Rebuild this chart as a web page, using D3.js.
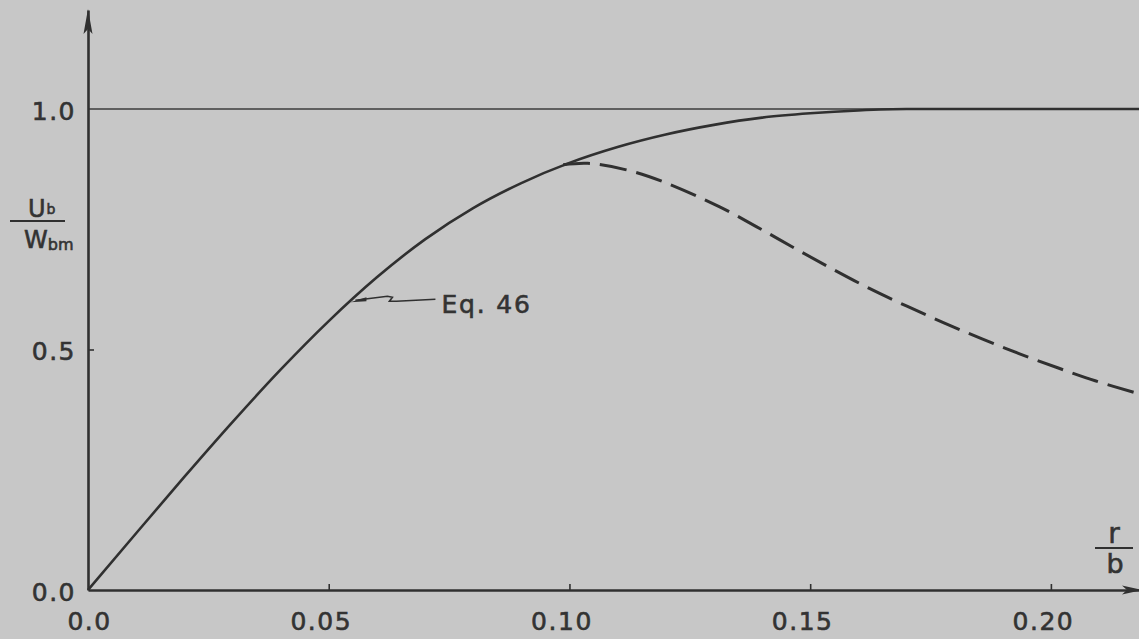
<!DOCTYPE html>
<html><head><meta charset="utf-8">
<script src="https://cdn.jsdelivr.net/npm/d3@7"></script>
<style>
html,body{margin:0;padding:0;background:#c7c7c7;overflow:hidden;}
svg{display:block;}
text{font-family:"DejaVu Sans",sans-serif;fill:#333;stroke:#333;stroke-width:0.6px;}
</style></head><body>
<svg id="chart" width="1139" height="639"></svg>
<script>
// ---- data ----
const xTickValues = [0, 0.05, 0.10, 0.15, 0.20];
const xTickLabels = ["0.0", "0.05", "0.10", "0.15", "0.20"];
const yTickValues = [0, 0.5, 1.0];
const yTickLabels = ["0.0", "0.5", "1.0"];
const referenceLevel = [1.0];

// solid curve (Eq. 46)
const solidX = [0, 0.01, 0.02, 0.03, 0.04, 0.05, 0.06, 0.07, 0.08, 0.09, 0.10, 0.11, 0.12, 0.13, 0.14, 0.15, 0.16, 0.17, 0.18, 0.2183];
const solidY = [0, 0.118, 0.235, 0.349, 0.458, 0.559, 0.650, 0.729, 0.794, 0.846, 0.888, 0.921, 0.947, 0.967, 0.982, 0.991, 0.997, 1.0, 1.0, 1.0];

// dashed branch
const dashedX = [0.0987, 0.1038, 0.1116, 0.1194, 0.1311, 0.1389, 0.1467, 0.1545, 0.1623, 0.1701, 0.1779, 0.1857, 0.1935, 0.2014, 0.2092, 0.2183];
const dashedY = [0.884, 0.887, 0.874, 0.849, 0.797, 0.755, 0.711, 0.668, 0.627, 0.590, 0.555, 0.522, 0.491, 0.462, 0.435, 0.408];

const annotationText = "Eq. 46";
const annotationX = 0.0543;
const yLabelTop = ["U", "b"];
const yLabelBottom = ["W", "bm"];
const xLabelTop = "r";
const xLabelBottom = "b";

// ---- layout ----
const W = 1139, H = 639;
const ink = "#303030";
const svg = d3.select("#chart");
svg.append("rect").attr("width", W).attr("height", H).attr("fill", "#c7c7c7");

const x = d3.scaleLinear().domain([0, 0.2183]).range([88, 1139]);
const y = d3.scaleLinear().domain([0, 1.2058]).range([590, 10]);

// reference line at 1.0
svg.selectAll("line.ref").data(referenceLevel).enter().append("line")
  .attr("class", "ref")
  .attr("x1", x(0)).attr("x2", x(0.2183))
  .attr("y1", d => y(d)).attr("y2", d => y(d))
  .attr("stroke", "#3c3c3c").attr("stroke-width", 1.3);

// x axis
const xAxis = d3.axisBottom(x).tickValues(xTickValues)
  .tickFormat((d, i) => xTickLabels[i]).tickSizeInner(-6).tickSizeOuter(0);
const gx = svg.append("g").attr("transform", `translate(0,${y(0)})`).call(xAxis);
gx.select(".domain").attr("stroke", ink).attr("stroke-width", 2.6);
gx.selectAll(".tick line").attr("stroke", ink).attr("stroke-width", 1.6)
  .attr("display", d => d === 0 ? "none" : null);
gx.selectAll(".tick text").attr("y", 40).attr("dy", 0)
  .attr("dx", d => d === 0 ? 1 : -8)
  .style("font-size", "25px").style("letter-spacing", "1.5px").attr("fill", "#333");

// y axis
const yAxis = d3.axisLeft(y).tickValues(yTickValues)
  .tickFormat((d, i) => yTickLabels[i]).tickSizeInner(-6).tickSizeOuter(0);
const gy = svg.append("g").attr("transform", `translate(${x(0)},0)`).call(yAxis);
gy.select(".domain").attr("stroke", ink).attr("stroke-width", 2.6);
gy.selectAll(".tick line").attr("stroke", ink).attr("stroke-width", 1.6)
  .attr("display", d => d === 0.5 ? null : "none");
gy.selectAll(".tick text").attr("x", -12).attr("dy", "0.42em")
  .style("font-size", "25px").style("letter-spacing", "1.5px").attr("fill", "#333");

// arrowheads
const yTopPx = y(1.2058), xEndPx = x(0.2183);
svg.append("path")
  .attr("d", `M${x(0)},${yTopPx - 1} L${x(0) - 4.5},${yTopPx + 24} L${x(0)},${yTopPx + 19} L${x(0) + 4.5},${yTopPx + 24} Z`)
  .attr("fill", ink);
svg.append("path")
  .attr("d", `M${xEndPx + 3},${y(0)} L${xEndPx - 17},${y(0) - 4.5} L${xEndPx - 12},${y(0)} L${xEndPx - 17},${y(0) + 4.5} Z`)
  .attr("fill", ink);

// curves
const solidData = solidX.map((v, i) => [v, solidY[i]]);
const dashedData = dashedX.map((v, i) => [v, dashedY[i]]);

const solidLine = d3.line().x(d => x(d[0])).y(d => y(d[1])).curve(d3.curveMonotoneX);
const dashedLine = d3.line().x(d => x(d[0])).y(d => y(d[1])).curve(d3.curveCatmullRom.alpha(0.5));

svg.append("path").datum(solidData).attr("d", solidLine)
  .attr("fill", "none").attr("stroke", ink).attr("stroke-width", 2.6).attr("stroke-linejoin", "round");
svg.append("path").datum(dashedData).attr("d", dashedLine)
  .attr("fill", "none").attr("stroke", ink).attr("stroke-width", 3)
  .attr("stroke-dasharray", "27,10");

// annotation
function interpY(xv) {
  for (let i = 1; i < solidX.length; i++) {
    if (xv <= solidX[i]) {
      const t = (xv - solidX[i - 1]) / (solidX[i] - solidX[i - 1]);
      return solidY[i - 1] + t * (solidY[i] - solidY[i - 1]);
    }
  }
  return solidY[solidY.length - 1];
}
const tx = x(annotationX), ty = y(interpY(annotationX));
svg.append("path")
  .attr("d", `M${tx + 1},${ty} L${tx + 17},${ty - 5} L${tx + 17},${ty - 1} Z`)
  .attr("fill", ink);
svg.append("path")
  .attr("d", `M${tx + 6},${ty - 2} L${tx + 38},${ty - 6} L${tx + 43},${ty - 5} L${tx + 40},${ty - 1} L${tx + 47},${ty - 1} L${tx + 86},${ty - 3}`)
  .attr("fill", "none").attr("stroke", ink).attr("stroke-width", 1.6);
svg.append("text").attr("x", tx + 92).attr("y", ty + 11)
  .style("font-size", "25px").style("letter-spacing", "1.8px").text(annotationText);

// y-axis label (fraction)
const yl = svg.append("g");
const tU = yl.append("text").attr("x", 28).attr("y", 217).style("font-size", "24px");
tU.append("tspan").text(yLabelTop[0]);
tU.append("tspan").attr("dx", 1).attr("dy", -3).style("font-size", "14px").text(yLabelTop[1]);
yl.append("line").attr("x1", 10).attr("x2", 65).attr("y1", 221).attr("y2", 221)
  .attr("stroke", ink).attr("stroke-width", 2);
const tW = yl.append("text").attr("x", 24).attr("y", 248).style("font-size", "24px");
tW.append("tspan").text(yLabelBottom[0]);
tW.append("tspan").attr("dx", 0).attr("dy", 2).style("font-size", "16px").text(yLabelBottom[1]);

// x-axis label (fraction)
const xl = svg.append("g");
xl.append("text").attr("x", 1114).attr("y", 543).attr("text-anchor", "middle")
  .style("font-size", "28px").text(xLabelTop);
xl.append("line").attr("x1", 1095).attr("x2", 1133).attr("y1", 548).attr("y2", 548)
  .attr("stroke", ink).attr("stroke-width", 2);
xl.append("text").attr("x", 1115).attr("y", 573).attr("text-anchor", "middle")
  .style("font-size", "27px").text(xLabelBottom);
</script>
</body></html>
